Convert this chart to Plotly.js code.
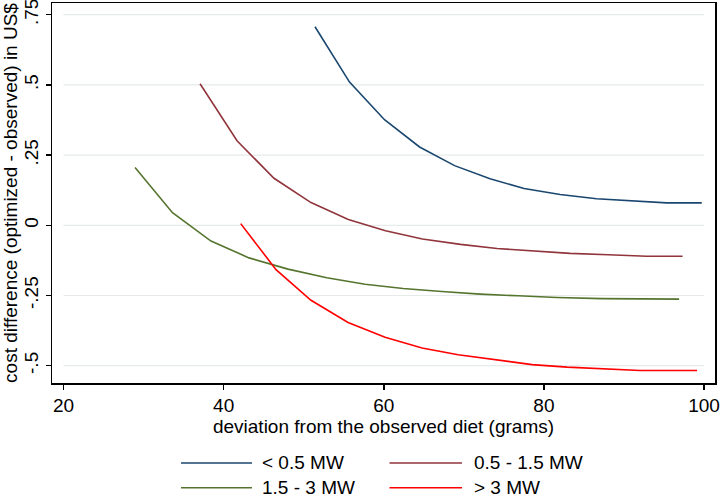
<!DOCTYPE html>
<html>
<head>
<meta charset="utf-8">
<script src="https://cdn.plot.ly/plotly-3.0.1.min.js"></script>
<style>html,body{margin:0;padding:0;background:#fff;}#chart{width:720px;height:497px;}</style>
</head>
<body>
<div id="chart"></div>
<script>
// Series names
const seriesNames = ['< 0.5 MW', '0.5 - 1.5 MW', '1.5 - 3 MW', '> 3 MW'];

// < 0.5 MW
const xLt05 = [51.41, 55.72, 60.09, 64.47, 68.84, 73.27, 77.52, 82.02, 86.58, 90.97, 95.34, 99.72];
const yLt05 = [0.707, 0.510, 0.376, 0.279, 0.2125, 0.166, 0.131, 0.110, 0.0945, 0.0875, 0.080, 0.080];

// 0.5 - 1.5 MW
const x05to15 = [37.05, 41.67, 46.29, 50.91, 55.57, 60.22, 64.82, 69.59, 74.15, 78.71, 83.27, 88.05, 92.85, 97.32];
const y05to15 = [0.504, 0.301, 0.1675, 0.081, 0.021, -0.0195, -0.0485, -0.068, -0.0825, -0.092, -0.100, -0.105, -0.110, -0.110];

// 1.5 - 3 MW
const x15to3 = [28.93, 33.61, 38.42, 43.17, 48.04, 52.88, 57.66, 62.41, 67.24, 72.03, 76.78, 81.64, 87.22, 92.02, 96.89];
const y15to3 = [0.206, 0.045, -0.056, -0.116, -0.156, -0.187, -0.210, -0.225, -0.236, -0.245, -0.251, -0.257, -0.261, -0.263, -0.263];

// > 3 MW
const xGt3 = [42.13, 46.54, 50.91, 55.54, 60.16, 64.78, 69.28, 73.90, 78.52, 82.89, 87.26, 92.00, 99.13];
const yGt3 = [0.006, -0.158, -0.267, -0.346, -0.399, -0.437, -0.461, -0.479, -0.496, -0.505, -0.512, -0.517, -0.517];

// Axis ticks
const xTickVals = [20, 40, 60, 80, 100];
const yTickVals = [-0.5, -0.25, 0, 0.25, 0.5, 0.75];
const yTickText = ['-.5', '-.25', '0', '.25', '.5', '.75'];

const xTitle = 'deviation from the observed diet (grams)';
const yTitle = 'cost difference (optimized - observed) in US$';

const colors = ['#1a476f', '#90353b', '#55752f', '#ff0000'];
const xs = [xLt05, x05to15, x15to3, xGt3];
const ys = [yLt05, y05to15, y15to3, yGt3];

const FONT = 'Liberation Sans, Arial, sans-serif';

const traces = seriesNames.map((n, i) => ({
  type: 'scatter', mode: 'lines', name: n,
  x: xs[i], y: ys[i],
  line: {color: colors[i], width: 1.6},
  showlegend: false, hoverinfo: 'skip'
}));

// gridlines spanning the tick range only
const shapes = yTickVals.map(v => ({
  type: 'line', xref: 'x', yref: 'y', layer: 'below',
  x0: xTickVals[0], x1: xTickVals[xTickVals.length - 1], y0: v, y1: v,
  line: {color: '#e6eaeb', width: 1.2}
}));

// manual legend (keys + labels); plot area is 380 px tall (y 3..383)
const legendPos = [
  {lx0: 0.1946, lx1: 0.3017, tx: 0.3137, y: -0.2105},
  {lx0: 0.5090, lx1: 0.6184, tx: 0.6335, y: -0.2105},
  {lx0: 0.1946, lx1: 0.3017, tx: 0.3137, y: -0.2755},
  {lx0: 0.5090, lx1: 0.6184, tx: 0.6335, y: -0.2755}
];
const annotations = [];
seriesNames.forEach((n, i) => {
  const p = legendPos[i];
  shapes.push({type: 'line', xref: 'paper', yref: 'paper', x0: p.lx0, x1: p.lx1, y0: p.y, y1: p.y,
    line: {color: colors[i], width: 1.6}});
  annotations.push({xref: 'paper', yref: 'paper', x: p.tx, y: p.y, text: n, showarrow: false,
    xanchor: 'left', yanchor: 'middle', font: {family: FONT, size: 19, color: '#000'}});
});

const layout = {
  width: 720, height: 497,
  margin: {l: 52, r: 5, t: 3, b: 114, pad: 0},
  paper_bgcolor: '#fff', plot_bgcolor: '#fff',
  font: {family: FONT, size: 19, color: '#000'},
  showlegend: false,
  xaxis: {
    range: [18.56, 101.37], tickvals: xTickVals, ticktext: xTickVals.map(String),
    showgrid: false, zeroline: false, showline: true, linecolor: '#000', linewidth: 1.5, mirror: true,
    ticks: 'outside', ticklen: 5, tickwidth: 1.5, tickcolor: '#000',
    tickfont: {family: FONT, size: 19, color: '#000'},
    title: {text: xTitle, font: {family: FONT, size: 19, color: '#000'}, standoff: 0},
    automargin: false
  },
  yaxis: {
    range: [-0.5616, 0.7917], tickvals: yTickVals, ticktext: yTickText, tickangle: -90,
    ticklabeloverflow: 'allow',
    showgrid: false, zeroline: false, showline: true, linecolor: '#000', linewidth: 1.5, mirror: true,
    ticks: 'outside', ticklen: 5, tickwidth: 1.5, tickcolor: '#000',
    tickfont: {family: FONT, size: 19, color: '#000'},
    title: {text: yTitle, font: {family: FONT, size: 19, color: '#000'}, standoff: 2},
    automargin: false
  },
  shapes: shapes,
  annotations: annotations
};

Plotly.newPlot('chart', traces, layout, {displayModeBar: false, staticPlot: true});
</script>
</body>
</html>
